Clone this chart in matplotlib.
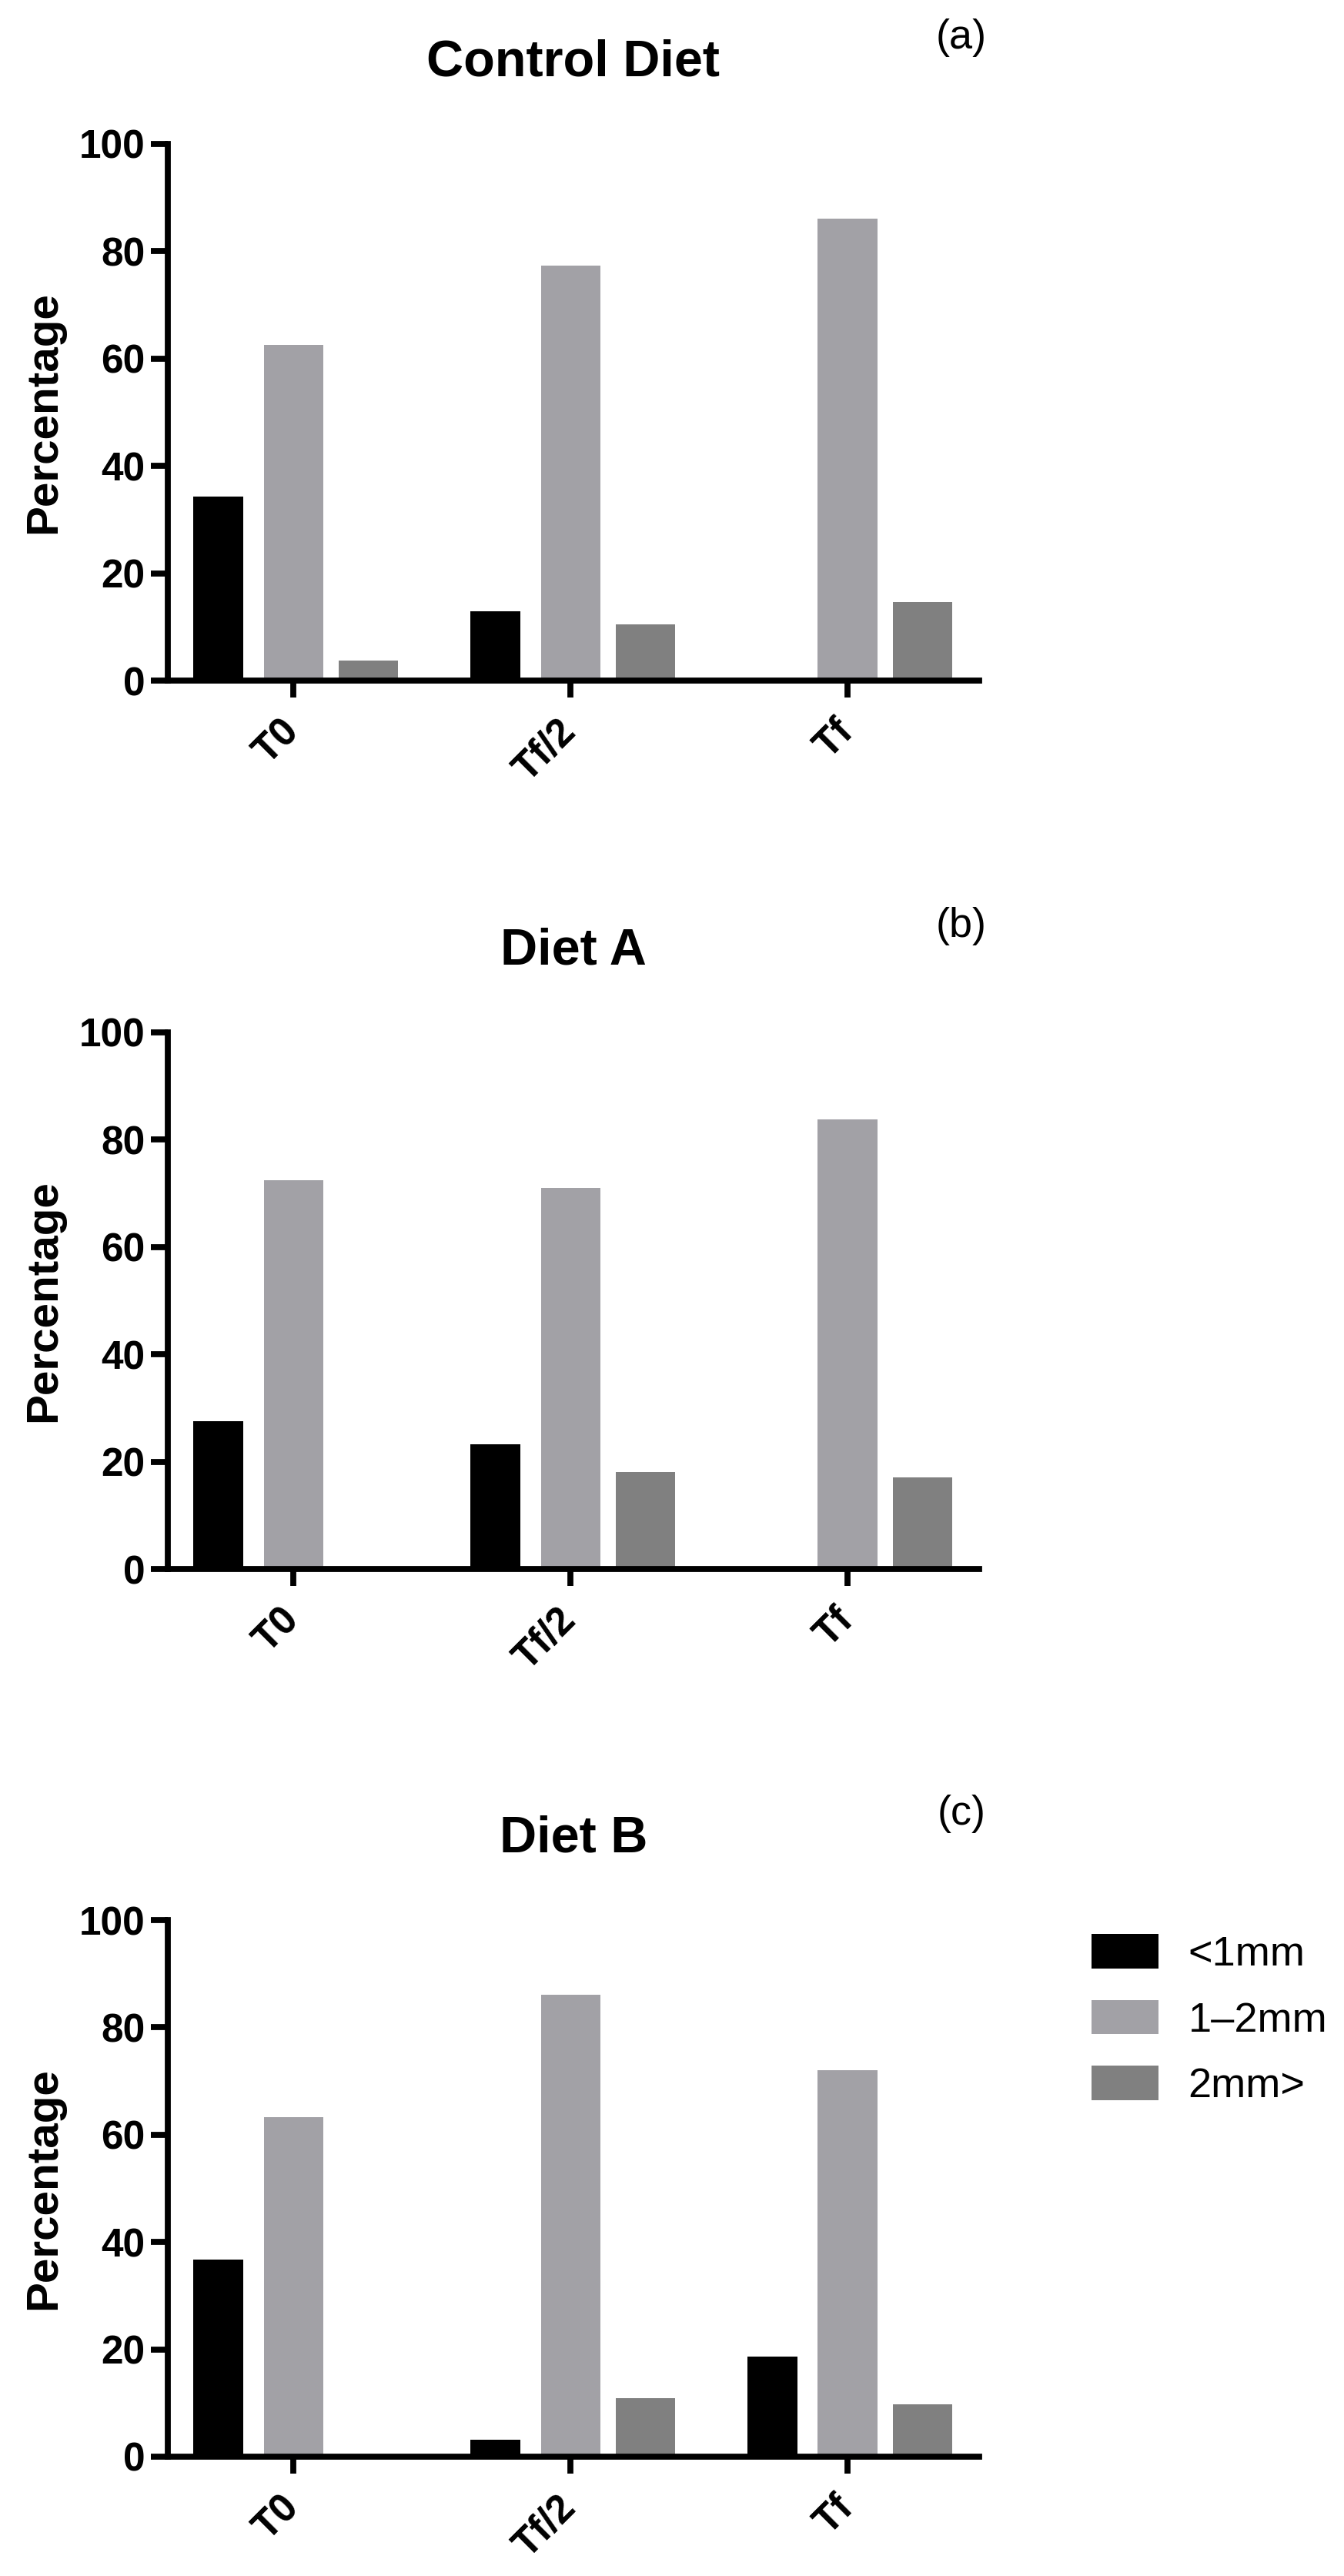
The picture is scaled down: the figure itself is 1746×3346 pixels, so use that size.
#!/usr/bin/env python3
"""Particle size distribution per diet, three stacked bar panels."""

import matplotlib
matplotlib.use("Agg")
import matplotlib.pyplot as plt
from matplotlib.patches import Patch
import numpy as np


categories = ["T0", "Tf/2", "Tf"]
size_classes = ["<1mm", "1\u20132mm", "2mm>"]

panel_titles = ["Control Diet", "Diet A", "Diet B"]
panel_tags = ["(a)", "(b)", "(c)"]

control_lt1 = [34.3, 12.9, 0.0]
control_1to2 = [62.5, 77.3, 86.1]
control_gt2 = [3.7, 10.5, 14.6]

diet_a_lt1 = [27.6, 23.2, 0.0]
diet_a_1to2 = [72.4, 71.0, 83.8]
diet_a_gt2 = [0.0, 18.1, 17.1]

diet_b_lt1 = [36.7, 3.1, 18.7]
diet_b_1to2 = [63.3, 86.1, 72.0]
diet_b_gt2 = [0.0, 10.9, 9.8]

BLACK = "#000000"
LIGHT = "#a2a1a6"
DARK = "#808080"
COLORS = [BLACK, LIGHT, DARK]
OFFSETS = [-0.271, 0.0, 0.272]
WIDTHS = [0.183, 0.214, 0.214]

FIG_W, FIG_H = 1746, 3346
LINE_W = 5.6


def style_axis(ax):
    for side in ("top", "right"):
        ax.spines[side].set_visible(False)
    for side in ("left", "bottom"):
        ax.spines[side].set_linewidth(LINE_W)
        ax.spines[side].set_color(BLACK)
        ax.spines[side].set_capstyle("projecting")
    ax.tick_params(axis="both", direction="out", length=15.5, width=LINE_W,
                   color=BLACK)
    ax.tick_params(axis="y", labelsize=37, pad=6)
    ax.tick_params(axis="x", labelsize=37, pad=27)
    for lab in ax.get_yticklabels() + ax.get_xticklabels():
        lab.set_fontweight("bold")
    plt.setp(ax.get_xticklabels(), rotation=45, ha="right", va="center",
             rotation_mode="anchor")


def draw_panel(ax, series, title, tag):
    x = np.arange(len(categories))
    for values, color, off, w in zip(series, COLORS, OFFSETS, WIDTHS):
        ax.bar(x + off, values, width=w, color=color, linewidth=0, zorder=2)
    ax.set_xlim(-0.453, 2.475)
    ax.set_ylim(0, 100)
    ax.set_yticks([0, 20, 40, 60, 80, 100])
    ax.set_xticks(x)
    ax.set_xticklabels(categories)
    style_axis(ax)

    ax.set_ylabel("Percentage", fontsize=42, fontweight="bold")
    ax.yaxis.set_label_coords(-0.127, 0.5)
    ax.text(0.5, 1.1263, title, transform=ax.transAxes, ha="center",
            va="baseline", fontsize=48, fontweight="bold")
    ax.text(0.978, 1.178, tag, transform=ax.transAxes, ha="center",
            va="baseline", fontsize=39)


def main():
    plt.rcParams.update({
        "font.family": ["Liberation Sans", "DejaVu Sans"],
        "text.color": BLACK,
        "axes.labelcolor": BLACK,
        "xtick.color": BLACK,
        "ytick.color": BLACK,
    })
    fig = plt.figure(figsize=(FIG_W / 100, FIG_H / 100), dpi=100)

    left = 218 / FIG_W
    width = 1054 / FIG_W
    height = 697 / FIG_H
    bottoms = [884, 2038, 3191]

    all_series = [
        (control_lt1, control_1to2, control_gt2),
        (diet_a_lt1, diet_a_1to2, diet_a_gt2),
        (diet_b_lt1, diet_b_1to2, diet_b_gt2),
    ]

    axes = []
    for bot, series, title, tag in zip(bottoms, all_series, panel_titles, panel_tags):
        ax = fig.add_axes([left, 1 - bot / FIG_H, width, height])
        draw_panel(ax, series, title, tag)
        axes.append(ax)

    handles = [Patch(facecolor=c, edgecolor="none") for c in COLORS]
    axes[2].legend(
        handles,
        size_classes,
        loc="upper left",
        bbox_to_anchor=(1418 / FIG_W, 1 - 2512 / FIG_H),
        bbox_transform=fig.transFigure,
        frameon=False,
        fontsize=39,
        handlelength=1.6,
        handleheight=0.89,
        handletextpad=0.72,
        labelspacing=0.62,
        borderpad=0,
        borderaxespad=0,
    )

    fig.savefig("out.png", dpi=100)
    plt.close(fig)


if __name__ == "__main__":
    main()
